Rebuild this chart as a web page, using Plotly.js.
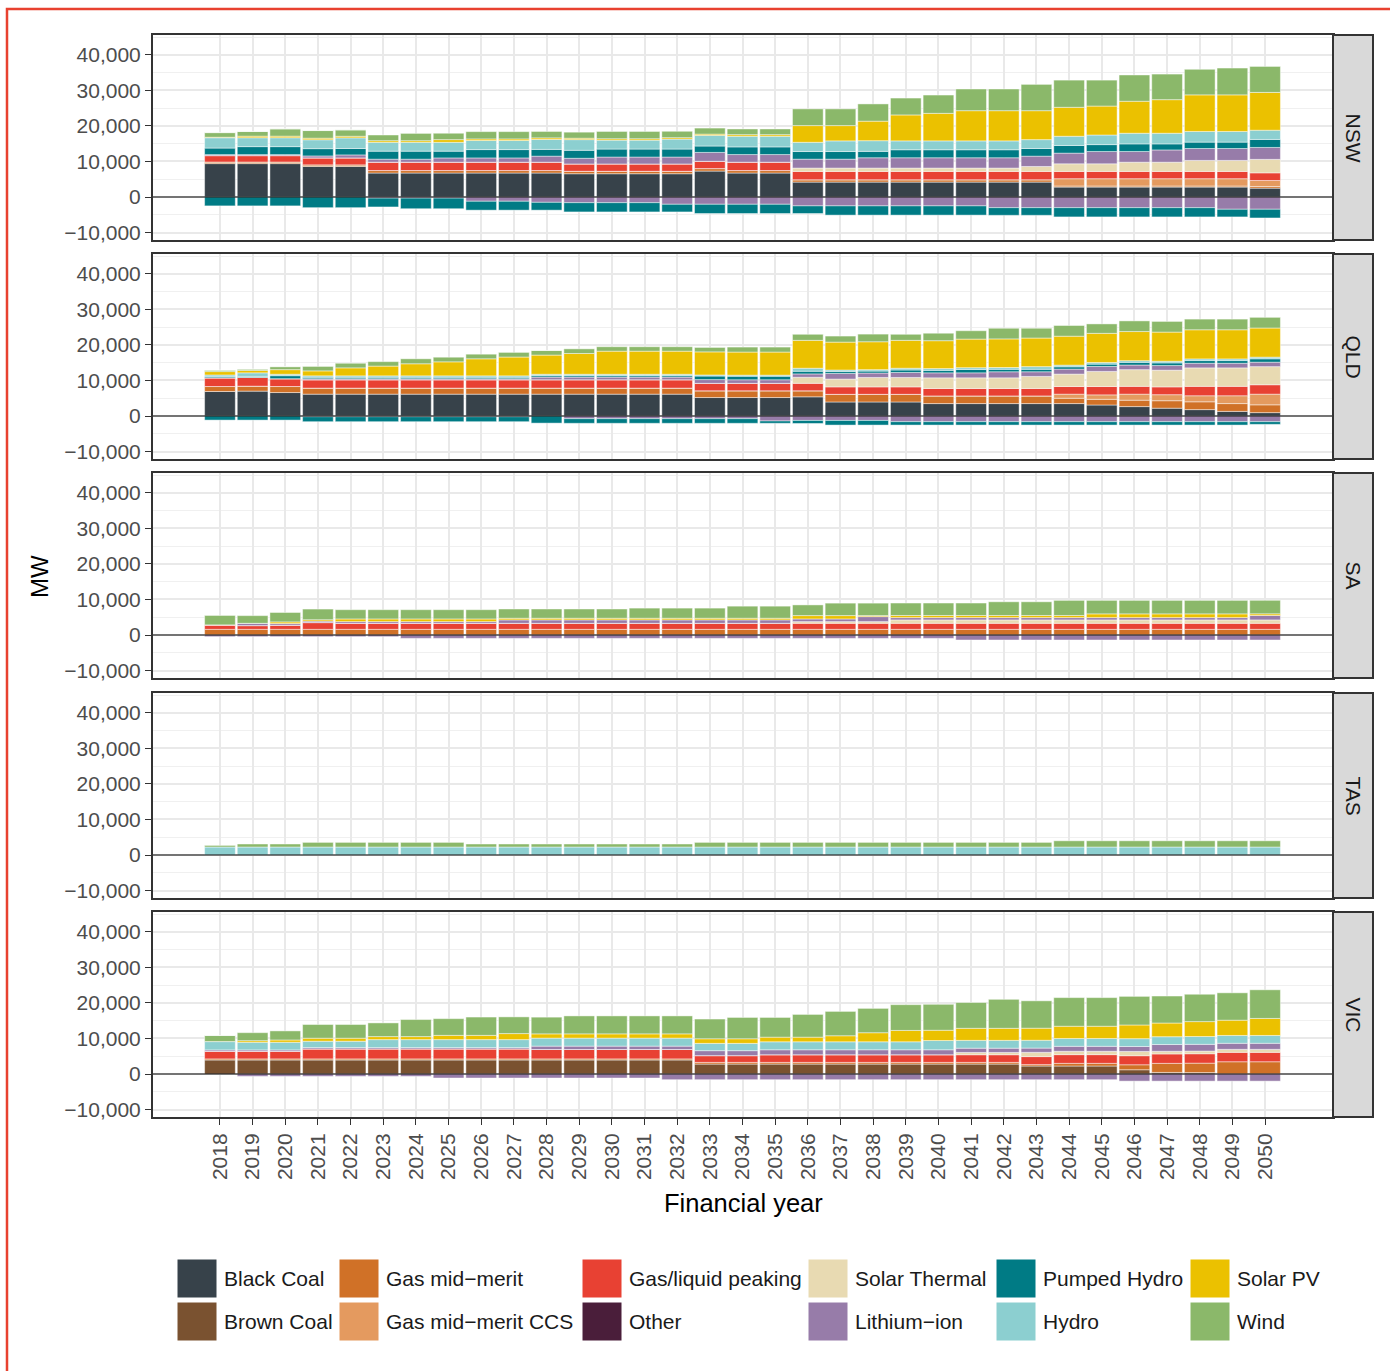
<!DOCTYPE html>
<html>
<head>
<meta charset="utf-8">
<script src="https://cdn.plot.ly/plotly-3.0.1.min.js"></script>
<style>html,body{margin:0;padding:0;background:#fff;}#chart{width:1390px;height:1371px;}</style>
</head>
<body>
<div id="chart"></div>
<script>
// ---------------- DATA (MW, financial years 2018..2050) ----------------
const YEARS = [2018,2019,2020,2021,2022,2023,2024,2025,2026,2027,2028,2029,2030,2031,2032,2033,2034,2035,2036,2037,2038,2039,2040,2041,2042,2043,2044,2045,2046,2047,2048,2049,2050];
const REGIONS = ['NSW','QLD','SA','TAS','VIC'];
const SERIES = ['Black Coal','Brown Coal','Gas mid\u2212merit','Gas mid\u2212merit CCS','Gas/liquid peaking','Other','Solar Thermal','Lithium\u2212ion','Pumped Hydro','Hydro','Solar PV','Wind'];
const COLORS = ['#37424a','#7a5230','#d07127','#e49a5f','#e84133','#4a1e3a','#e8dab2','#977ca9','#007b85','#8ccfd0','#ebc100','#8bb86a'];
const Y_TICKS = [-10000,0,10000,20000,30000,40000];
const Y_TICK_LABELS = ['\u221210,000','0','10,000','20,000','30,000','40,000'];

// NSW
const NSW_BLACK_COAL = [9400,9400,9400,8600,8600,6750,6750,6750,6750,6750,6750,6550,6550,6550,6550,7300,6750,6750,4200,4200,4200,4200,4200,4200,4200,4200,2800,2800,2800,2800,2800,2800,2500];
const NSW_GAS_MID = [450,450,450,450,450,700,700,700,700,700,700,700,700,700,700,700,700,700,650,650,650,650,650,650,650,650,300,300,300,300,300,300,450];
const NSW_GAS_CCS = [0,0,0,0,0,0,0,0,0,0,0,0,0,0,0,0,0,0,0,0,0,0,0,0,0,0,2050,2050,2050,2050,2050,2050,1700];
const NSW_GAS_PEAK = [1800,1800,1800,1950,1950,2350,2350,2350,2350,2350,2350,2050,2050,2050,2050,2050,2350,2350,2350,2350,2350,2350,2350,2350,2350,2350,2050,2050,2050,2050,2050,2050,2150];
const NSW_SOLAR_THERMAL = [0,0,0,0,0,0,0,0,0,0,0,0,0,0,0,0,0,0,950,950,950,950,950,950,950,1400,2150,2150,2600,2600,3100,3100,3800];
const NSW_LITHIUM = [280,280,280,560,850,850,850,1200,1200,1200,1700,1600,1950,1950,1950,2500,2150,2150,2500,2500,2900,2900,2900,2900,2900,2900,3000,3450,3000,3450,3350,3350,3350];
const NSW_PUMPED = [1850,2250,2250,2050,1800,2250,2250,1900,2350,2350,1900,2250,2250,2250,2250,1800,2150,2150,2150,2150,1800,2250,2250,2250,2250,2150,2150,1950,2150,1700,1800,1800,2250];
const NSW_HYDRO = [2900,2500,2500,2500,3000,2500,2500,2500,2550,2550,2800,3000,2500,2500,2800,3000,3000,3000,2600,3000,3000,2500,2500,2500,2500,2500,2600,2700,3000,3000,3000,3000,2600];
const NSW_SOLAR_PV = [150,450,450,450,450,450,450,750,450,450,450,400,400,400,400,350,450,450,4700,4300,5500,7300,7750,8500,8500,8150,8150,8150,9000,9450,10300,10300,10650];
const NSW_WIND = [1300,1300,2050,2150,1800,1600,2050,1800,2050,2050,1800,1700,2050,2050,1800,1700,1600,1600,4700,4700,4850,4750,5150,6100,6100,7400,7650,7300,7400,7200,7200,7550,7300];
const NSW_LITHIUM_CHARGE = [0,0,0,0,0,-300,-300,-300,-1200,-1200,-1500,-1600,-1600,-1600,-2050,-2050,-2050,-2050,-2500,-2500,-2500,-2500,-2500,-2500,-3000,-3000,-3000,-3000,-3000,-3000,-3000,-3450,-3450];
const NSW_PUMPED_CHARGE = [-2500,-2500,-2500,-3000,-3000,-2500,-3000,-3000,-2500,-2500,-2200,-2600,-2600,-2600,-2150,-2600,-2600,-2600,-2150,-2600,-2600,-2600,-2600,-2600,-2150,-2150,-2600,-2600,-2600,-2600,-2600,-2150,-2450];

// QLD
const QLD_BLACK_COAL = [6900,7000,6600,6150,6150,6150,6150,6150,6150,6150,6150,6150,6150,6150,6150,5200,5200,5200,5400,3950,3950,3950,3500,3500,3500,3500,3500,3100,2650,2200,1800,1300,950];
const QLD_GAS_MID = [1400,1400,1700,1700,1700,1700,1700,1700,1700,1700,1700,1700,1700,1700,1700,1900,1900,1900,1700,2150,2150,2150,2150,2150,2150,2150,1500,1600,1800,2100,2200,2200,2200];
const QLD_GAS_CCS = [0,0,0,0,0,0,0,0,0,0,0,0,0,0,0,0,0,0,0,0,0,0,0,0,0,0,1150,1250,1700,1700,1700,2200,3000];
const QLD_GAS_PEAK = [2450,2450,2200,2350,2350,2350,2350,2350,2350,2350,2350,2350,2350,2350,2350,2100,2100,2100,2100,2100,2100,2100,2100,2100,2100,2100,2150,2350,2200,2200,2650,2650,2650];
const QLD_SOLAR_THERMAL = [0,0,0,0,0,0,0,0,0,0,0,0,0,0,0,0,0,0,1700,2200,2650,2650,3000,3000,3000,3400,3500,4250,4700,4700,5200,5200,5100];
const QLD_LITHIUM = [0,0,0,300,300,300,300,300,300,300,750,750,750,750,750,1050,1000,1000,950,1600,1250,1400,1400,1400,1700,1300,1400,1400,1300,1300,1300,1300,1250];
const QLD_PUMPED = [300,300,850,400,400,400,400,400,400,400,400,400,400,400,400,1000,1000,1000,750,550,550,700,700,950,700,700,650,650,750,750,750,750,950];
const QLD_HYDRO = [500,1000,400,400,400,400,400,400,400,400,400,400,400,400,400,300,300,300,850,400,400,500,500,500,500,750,470,470,470,470,470,470,470];
const QLD_SOLAR_PV = [950,650,1300,1400,2250,2750,3400,3950,4800,5300,5400,5850,6500,6500,6500,6500,6500,6500,7850,7850,7850,7850,7850,8050,8050,8050,8150,8200,8200,8200,8200,8200,8200];
const QLD_WIND = [400,400,850,1250,1300,1250,1400,1300,1300,1300,1300,1300,1250,1250,1250,1250,1400,1400,1700,1700,2150,1700,2100,2350,3000,2750,3000,2650,3000,3000,3000,3000,3000];
const QLD_LITHIUM_CHARGE = [0,0,0,-200,-200,-200,-200,-200,-200,-200,0,-750,-750,-750,-750,-750,-750,-1400,-1250,-1250,-1250,-1600,-1600,-1600,-1600,-1600,-1600,-1600,-1600,-1600,-1600,-1600,-1600];
const QLD_PUMPED_CHARGE = [-1150,-1150,-1150,-1400,-1400,-1400,-1400,-1400,-1400,-1400,-2000,-1300,-1300,-1300,-1300,-1300,-1300,-650,-850,-1300,-1300,-950,-950,-950,-950,-950,-950,-950,-950,-950,-950,-950,-750];

// SA
const SA_GAS_MID = [1600,1600,1600,1600,1600,1600,1600,1600,1600,1600,1600,1600,1600,1600,1600,1600,1600,1600,1600,1600,1600,1600,1600,1600,1600,1600,1600,1600,1600,1600,1600,1600,1600];
const SA_GAS_PEAK = [1250,1050,1150,1900,1700,1700,1700,1700,1700,1700,1700,1700,1700,1700,1700,1700,1700,1700,1700,1700,1700,1700,1700,1700,1700,1700,1700,1700,1700,1700,1700,1700,1700];
const SA_SOLAR_THERMAL = [0,0,0,0,0,0,0,0,0,0,0,0,0,0,0,0,0,0,470,470,470,950,950,950,950,950,950,950,950,950,950,950,950];
const SA_LITHIUM = [0,650,470,400,470,470,470,470,470,950,950,950,950,950,950,950,950,950,750,750,1400,650,650,650,650,650,650,650,650,650,650,650,1250];
const SA_SOLAR_PV = [0,0,470,400,750,750,750,750,750,470,470,470,470,470,470,470,470,470,950,950,300,600,600,600,600,600,600,1050,1050,1050,1050,1050,470];
const SA_WIND = [2650,2150,2650,3000,2600,2600,2600,2600,2600,2600,2600,2600,2600,2850,2850,2850,3400,3400,3000,3500,3500,3500,3500,3500,3850,3850,4250,3800,3800,3800,3800,3800,3800];
const SA_LITHIUM_CHARGE = [-470,-470,-470,-470,-470,-470,-940,-940,-940,-940,-940,-940,-940,-940,-940,-940,-940,-940,-940,-940,-940,-940,-940,-1400,-1400,-1400,-1400,-1400,-1400,-1400,-1400,-1400,-1400];

// TAS
const TAS_HYDRO = [2250,2250,2250,2250,2250,2250,2250,2250,2250,2250,2250,2250,2250,2250,2250,2250,2250,2250,2250,2250,2250,2250,2250,2250,2250,2250,2250,2250,2250,2250,2250,2250,2250];
const TAS_WIND = [450,850,850,1300,1300,1300,1300,1300,850,850,850,850,850,850,850,1300,1300,1300,1300,1300,1300,1300,1300,1300,1300,1300,1750,1750,1750,1750,1750,1750,1750];

// VIC
const VIC_BROWN_COAL = [3950,3950,3950,3950,3950,3950,3950,3950,3950,3950,3950,3950,3950,3950,3950,2800,2800,2800,2800,2800,2800,2800,2800,2800,2800,2250,2250,2250,1200,450,400,0,0];
const VIC_GAS_MID = [300,300,300,300,300,300,300,300,300,300,300,300,300,300,300,470,470,470,470,470,470,470,470,470,470,400,750,750,1400,2550,2650,3450,3450];
const VIC_GAS_PEAK = [2150,2150,2150,2800,2800,2800,2800,2800,2800,2800,2650,2650,2650,2650,2650,1900,1900,2150,2150,2150,2150,2150,2150,2150,2150,2250,2450,2450,2550,2650,2650,2650,2650];
const VIC_SOLAR_THERMAL = [0,0,0,0,0,0,0,0,0,0,0,0,0,0,0,0,0,0,0,0,0,0,0,650,650,1200,950,950,1200,750,750,850,850];
const VIC_LITHIUM = [380,380,380,380,380,380,380,380,380,380,950,950,950,950,950,1400,1400,1400,1400,1400,1400,1400,1400,1200,1200,1200,1400,1400,1400,1900,1900,1700,1700];
const VIC_HYDRO = [2350,2150,2150,1800,1800,2250,2250,2250,2250,2250,2250,2250,2250,2250,2250,2050,2050,2250,2250,2250,2250,2250,2600,2200,2200,2200,2200,2200,2200,2200,2200,2200,2200];
const VIC_SOLAR_PV = [0,450,650,850,850,850,850,1200,1200,1700,1200,1200,1200,1200,1200,1300,1300,1300,1300,1700,2550,3200,2900,3400,3400,3400,3450,3450,3850,3850,4200,4300,4800];
const VIC_WIND = [1700,2250,2550,3850,3850,3850,4800,4700,5150,4700,4700,5050,5050,5050,5050,5550,6000,5550,6400,6850,6850,7250,7300,7250,8150,7700,8050,8050,8050,7600,7700,7700,8050];
const VIC_LITHIUM_CHARGE = [0,-660,-660,-660,-660,-660,-660,-1130,-1130,-1130,-1130,-1130,-1130,-1130,-1600,-1600,-1600,-1600,-1600,-1600,-1600,-1600,-1600,-1600,-1600,-1600,-1600,-1600,-2000,-2000,-2000,-2000,-2000];

// lookup tables built from the arrays above
const GEN = {
  NSW: {'Black Coal':NSW_BLACK_COAL,'Gas mid\u2212merit':NSW_GAS_MID,'Gas mid\u2212merit CCS':NSW_GAS_CCS,'Gas/liquid peaking':NSW_GAS_PEAK,'Solar Thermal':NSW_SOLAR_THERMAL,'Lithium\u2212ion':NSW_LITHIUM,'Pumped Hydro':NSW_PUMPED,'Hydro':NSW_HYDRO,'Solar PV':NSW_SOLAR_PV,'Wind':NSW_WIND},
  QLD: {'Black Coal':QLD_BLACK_COAL,'Gas mid\u2212merit':QLD_GAS_MID,'Gas mid\u2212merit CCS':QLD_GAS_CCS,'Gas/liquid peaking':QLD_GAS_PEAK,'Solar Thermal':QLD_SOLAR_THERMAL,'Lithium\u2212ion':QLD_LITHIUM,'Pumped Hydro':QLD_PUMPED,'Hydro':QLD_HYDRO,'Solar PV':QLD_SOLAR_PV,'Wind':QLD_WIND},
  SA: {'Gas mid\u2212merit':SA_GAS_MID,'Gas/liquid peaking':SA_GAS_PEAK,'Solar Thermal':SA_SOLAR_THERMAL,'Lithium\u2212ion':SA_LITHIUM,'Solar PV':SA_SOLAR_PV,'Wind':SA_WIND},
  TAS: {'Hydro':TAS_HYDRO,'Wind':TAS_WIND},
  VIC: {'Brown Coal':VIC_BROWN_COAL,'Gas mid\u2212merit':VIC_GAS_MID,'Gas/liquid peaking':VIC_GAS_PEAK,'Solar Thermal':VIC_SOLAR_THERMAL,'Lithium\u2212ion':VIC_LITHIUM,'Hydro':VIC_HYDRO,'Solar PV':VIC_SOLAR_PV,'Wind':VIC_WIND}
};
const CHARGE = {
  NSW: {'Lithium\u2212ion':NSW_LITHIUM_CHARGE,'Pumped Hydro':NSW_PUMPED_CHARGE},
  QLD: {'Lithium\u2212ion':QLD_LITHIUM_CHARGE,'Pumped Hydro':QLD_PUMPED_CHARGE},
  SA: {'Lithium\u2212ion':SA_LITHIUM_CHARGE},
  TAS: {},
  VIC: {'Lithium\u2212ion':VIC_LITHIUM_CHARGE}
};

// ---------------- LAYOUT GEOMETRY (pixels) ----------------
const W = 1390, H = 1371;
const PX_L = 153, PX_R = 1333, STRIP_R = 1373;
const PANEL_TOP = [35, 254, 473, 693, 912];
const PANEL_H = 205;
const FONT = 'Liberation Sans, Arial, Helvetica, sans-serif';
const px = v => v / W;
const py = v => 1 - v / H;

const traces = [];
const layout = {
  width: W, height: H, autosize: false,
  margin: {l:0, r:0, t:0, b:0, pad:0},
  paper_bgcolor: '#ffffff', plot_bgcolor: '#ffffff',
  barmode: 'relative', showlegend: false,
  font: {family: FONT, color: '#4d4d4d'},
  shapes: [], annotations: []
};

REGIONS.forEach((reg, k) => {
  const sfx = k === 0 ? '' : String(k + 1);
  const xa = 'x' + sfx, ya = 'y' + sfx;
  SERIES.forEach((s, i) => {
    const vals = GEN[reg][s];
    if (!vals) return;
    traces.push({type:'bar', name:s, x:YEARS, y:vals, xaxis:xa, yaxis:ya, width:0.94,
      marker:{color:COLORS[i], line:{color:'rgba(255,255,255,0.75)', width:0.6}},
      hovertemplate: reg + ' ' + s + ' %{x}: %{y:,} MW<extra></extra>'});
  });
  ['Lithium\u2212ion','Pumped Hydro'].forEach(s => {
    const vals = CHARGE[reg][s];
    if (!vals) return;
    const i = SERIES.indexOf(s);
    traces.push({type:'bar', name:s + ' (charging)', x:YEARS, y:vals, xaxis:xa, yaxis:ya, width:0.94,
      marker:{color:COLORS[i], line:{color:'rgba(255,255,255,0.75)', width:0.6}},
      hovertemplate: reg + ' ' + s + ' charging %{x}: %{y:,} MW<extra></extra>'});
  });

  const top = PANEL_TOP[k], bot = top + PANEL_H;
  const isBottom = k === REGIONS.length - 1;
  layout['xaxis' + sfx] = {
    domain: [px(PX_L), px(PX_R)], anchor: ya,
    range: [2015.95, 2052.08], tickmode: 'array', tickvals: YEARS, ticktext: YEARS.map(String),
    showgrid: true, gridcolor: '#e9e9e9', gridwidth: 1.5, zeroline: false,
    showline: true, mirror: true, linecolor: '#333333', linewidth: 2,
    ticks: isBottom ? 'outside' : '', ticklen: 6, tickwidth: 1.3, tickcolor: '#333333',
    showticklabels: isBottom, tickangle: -90,
    tickfont: {family: FONT, size: 21, color: '#4d4d4d'}, fixedrange: true
  };
  layout['yaxis' + sfx] = {
    domain: [py(bot), py(top)], anchor: xa,
    range: [-12100, 45600], tickmode: 'array', tickvals: Y_TICKS, ticktext: Y_TICK_LABELS,
    showgrid: true, gridcolor: '#e9e9e9', gridwidth: 1.5, zeroline: false,
    minor: {tickmode: 'array', tickvals: [-5000, 5000, 15000, 25000, 35000, 45000], showgrid: true, gridcolor: '#f0f0f0', gridwidth: 0.8, ticks: ''},
    showline: true, mirror: true, linecolor: '#333333', linewidth: 2,
    ticks: 'outside', ticklen: 6, tickwidth: 1.3, tickcolor: '#333333',
    tickfont: {family: FONT, size: 21, color: '#4d4d4d'}, fixedrange: true
  };
  // zero reference line, drawn above the bars
  layout.shapes.push({type:'line', xref: xa + ' domain', yref: ya, x0:0, x1:1, y0:0, y1:0,
    line:{color:'#000000', width:1.2}, layer:'above'});
  // facet strip
  layout.shapes.push({type:'rect', xref:'paper', yref:'paper', x0:px(PX_R), x1:px(STRIP_R), y0:py(bot), y1:py(top),
    fillcolor:'#d9d9d9', line:{color:'#333333', width:2}, layer:'above'});
  layout.annotations.push({xref:'paper', yref:'paper', x:px((PX_R + STRIP_R) / 2), y:py(top + PANEL_H / 2),
    text: reg, showarrow:false, textangle:90, xanchor:'center', yanchor:'middle',
    font:{family:FONT, size:21, color:'#1a1a1a'}});
});

// axis titles
layout.annotations.push({xref:'paper', yref:'paper', x:px(40), y:py(577), text:'MW', showarrow:false,
  textangle:-90, xanchor:'center', yanchor:'middle', font:{family:FONT, size:24, color:'#000000'}});
layout.annotations.push({xref:'paper', yref:'paper', x:px((PX_L + PX_R) / 2), y:py(1203), text:'Financial year', showarrow:false,
  xanchor:'center', yanchor:'middle', font:{family:FONT, size:25.5, color:'#000000'}});

// legend (2 rows x 6 columns, column-major like the original)
const LEG_COL_X = [177, 339, 582, 808, 996, 1190];
const LEG_ROW_Y = [1259, 1302];
const KEY_W = 40, KEY_H = 39;
SERIES.forEach((s, i) => {
  const c = Math.floor(i / 2), r = i % 2;
  const x0 = LEG_COL_X[c], y0 = LEG_ROW_Y[r];
  layout.shapes.push({type:'rect', xref:'paper', yref:'paper', x0:px(x0), x1:px(x0 + KEY_W), y0:py(y0 + KEY_H), y1:py(y0),
    fillcolor:COLORS[i], line:{color:'#ffffff', width:1}});
  layout.annotations.push({xref:'paper', yref:'paper', x:px(x0 + KEY_W + 5), y:py(y0 + KEY_H / 2), text:s, showarrow:false,
    xanchor:'left', yanchor:'middle', font:{family:FONT, size:21, color:'#1a1a1a'}});
});

// red outer frame
layout.shapes.push({type:'rect', xref:'paper', yref:'paper', x0:px(7), x1:1.02, y0:-0.02, y1:py(9),
  line:{color:'#e8412f', width:2.5}, fillcolor:'rgba(0,0,0,0)', layer:'above'});

Plotly.newPlot('chart', traces, layout, {displayModeBar:false, staticPlot:false});
</script>
</body>
</html>
